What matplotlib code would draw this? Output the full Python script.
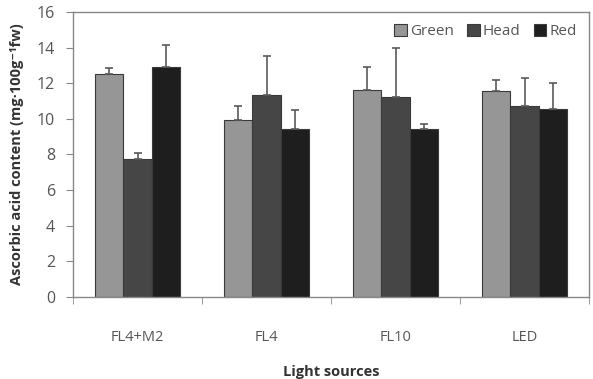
import matplotlib
matplotlib.use("Agg")
import matplotlib.pyplot as plt
import numpy as np

plt.rcParams['font.family'] = ['Open Sans', 'DejaVu Sans']

categories = ["FL4+M2", "FL4", "FL10", "LED"]
series = ["Green", "Head", "Red"]
green = [12.53, 9.94, 11.62, 11.55]
green_err = [0.31, 0.78, 1.29, 0.62]
head = [7.75, 11.32, 11.23, 10.71]
head_err = [0.32, 2.21, 2.73, 1.59]
red = [12.93, 9.43, 9.43, 10.56]
red_err = [1.22, 1.07, 0.30, 1.46]
yticks = [0, 2, 4, 6, 8, 10, 12, 14, 16]

colors = ["#969696", "#464646", "#1e1e1e"]
values = [green, head, red]
errs = [green_err, head_err, red_err]

fig = plt.figure(figsize=(5.93, 3.79), dpi=100)
ax = fig.add_axes([0.1231, 0.2164, 0.8702, 0.7519])

x = np.arange(len(categories))
w = 0.222
for i, (vals, er, c, name) in enumerate(zip(values, errs, colors, series)):
    ax.bar(x + (i - 1) * w, vals, width=w, color=c, edgecolor="#3a3a3a",
           linewidth=0.8, label=name, zorder=2)
    ax.errorbar(x + (i - 1) * w, vals, yerr=[np.zeros(len(er)), er], fmt="none",
                ecolor="#5a5a5a", elinewidth=1.2, capsize=3, capthick=1.2, zorder=3)

ax.set_xlim(-0.5, 3.5)
ax.set_ylim(0, 16)
ax.set_yticks(yticks)
ax.set_xticks(x)
ax.set_xticklabels(categories)
ax.set_xticks(np.arange(-0.5, 3.6, 1.0), minor=True)
ax.tick_params(axis="x", which="major", length=0, pad=24, labelsize=10.5, labelcolor="#555555")
ax.tick_params(axis="x", which="minor", length=5, color="#888888", direction="out")
ax.tick_params(axis="y", length=5, color="#888888", direction="out", labelsize=11.5,
               labelcolor="#555555", pad=8)
for s in ax.spines.values():
    s.set_color("#888888")
    s.set_linewidth(1.0)

ax.set_xlabel("Light sources", fontsize=10.5, fontweight="bold", color="#333333", labelpad=14)
ax.set_ylabel("Ascorbic acid content (mg·100g⁻¹fw)", fontsize=10.5, fontweight="bold",
              color="#333333", labelpad=9)

leg = ax.legend(loc="upper right", ncol=3, frameon=False, fontsize=11,
                handlelength=0.8, handleheight=0.8, handletextpad=0.2, columnspacing=0.9,
                bbox_to_anchor=(1.0, 1.0), borderaxespad=0.4)
for t in leg.get_texts():
    t.set_color("#555555")

fig.savefig("out.png", dpi=100)
